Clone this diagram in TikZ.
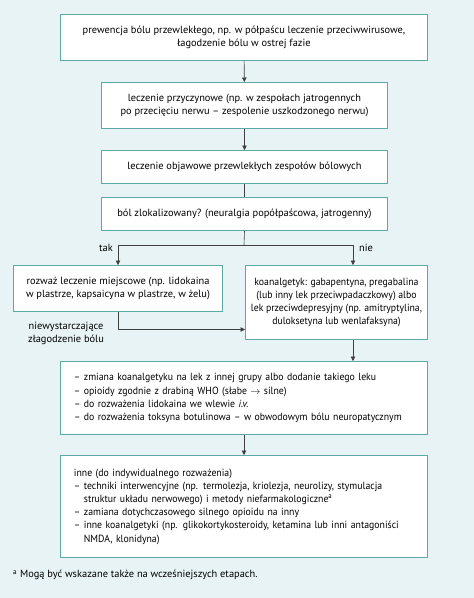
\documentclass[tikz,border=0pt]{standalone}
\usepackage{fontspec}
\setmainfont{PT Sans}
\newfontfamily\narrowsans[Ligatures=TeX,FakeStretch=0.94]{PT Sans}
\usepackage{xcolor}
\usetikzlibrary{arrows.meta}
\definecolor{bgteal}{HTML}{E7F3F4}
\definecolor{boxteal}{HTML}{5BAAA5}
\newcommand{\boxfont}{\fontsize{10.4}{13}\selectfont}
\newcommand{\narrowfont}{\narrowsans\fontsize{10.4}{13.2}\selectfont}

\begin{document}
\begin{tikzpicture}[x=1pt,y=-1pt,
  stepbox/.style={draw=boxteal, line width=1pt, fill=white, anchor=north west,
    align=center, inner sep=0pt, font=\boxfont},
  listbox/.style={stepbox, align=left, text width=#1, inner xsep=13.5pt, font=\narrowfont},
  flow/.style={-{Triangle[length=4.5pt,width=4.5pt]}, black!75, line width=0.6pt},
  plain/.style={black!75, line width=0.6pt}]
  % background with the picture's margins
  \fill[bgteal] (0,0) rectangle (474,598);
  % main column
  \node[stepbox, minimum width=367, minimum height=46] (prev) at (60,14)
    {prewencja bólu przewlekłego, np. w półpaścu leczenie przeciwwirusowe,\\
     łagodzenie bólu w ostrej fazie};
  \node[stepbox, minimum width=286, minimum height=46] (cause) at (101,82)
    {leczenie przyczynowe (np. w zespołach jatrogennych\\
     po przecięciu nerwu -- zespolenie uszkodzonego nerwu)};
  \node[stepbox, minimum width=286, minimum height=33] (symp) at (101,150)
    {leczenie objawowe przewlekłych zespołów bólowych};
  \node[stepbox, minimum width=286, minimum height=33] (loc) at (101,197)
    {ból zlokalizowany? (neuralgia popółpaścowa, jatrogenny)};
  % two branches
  \node[stepbox, minimum width=209, minimum height=46] (topical) at (13,265)
    {rozważ leczenie miejscowe (np. lidokaina\\
     w plastrze, kapsaicyna w plastrze, w żelu)};
  \node[stepbox, font=\narrowfont, minimum width=182, minimum height=74] (coan) at (245,265)
    {koanalgetyk: gabapentyna, pregabalina\\
     (lub inny lek przeciwpadaczkowy) albo\\
     lek przeciwdepresyjny (np. amitryptylina,\\
     duloksetyna lub wenlafaksyna)};
  % later steps
  \node[listbox=340, minimum height=73] (steps) at (60,361)
    {-- zmiana koanalgetyku na lek z innej grupy albo dodanie takiego leku\\
     -- opioidy zgodnie z drabiną WHO (słabe $\rightarrow$ silne)\\
     -- do rozważenia lidokaina we wlewie \textit{i.v.}\\
     -- do rozważenia toksyna botulinowa -- w obwodowym bólu neuropatycznym};
  \node[listbox=340, minimum height=102] (other) at (60,455)
    {inne (do indywidualnego rozważenia)\\
     -- techniki interwencyjne (np. termolezja, kriolezja, neurolizy, stymulacja\\
     \phantom{-- }struktur układu nerwowego) i metody niefarmakologiczne\textsuperscript{a}\\
     -- zamiana dotychczasowego silnego opioidu na inny\\
     -- inne koanalgetyki (np. glikokortykosteroidy, ketamina lub inni antagoniści\\
     \phantom{-- }NMDA, klonidyna)};
  \node[anchor=west, font=\boxfont, inner sep=0pt] (note) at (13,575)
    {\textsuperscript{a} Mogą być wskazane także na wcześniejszych etapach.};
  % connectors
  \draw[flow] (prev) -- (cause);
  \draw[flow] (cause) -- (symp);
  \draw[plain] (symp) -- (loc);
  \coordinate (split) at (244,245);
  \coordinate (takend) at (118,245);
  \coordinate (nieend) at (353,245);
  \draw[plain] (loc.south) -- (split);
  \draw[plain] (takend) -- (nieend);
  \draw[flow] (takend) -- (topical.north);
  \draw[flow] (nieend) -- (nieend |- coan.north);
  \node[font=\boxfont, anchor=east, inner sep=0pt] (tak) at (113,248) {tak};
  \node[font=\boxfont, anchor=west, inner sep=0pt] (nie) at (359,248) {nie};
  \draw[flow] (topical.south) |- ([yshift=-27pt]coan.west);
  \node[font=\boxfont, align=center, inner sep=0pt] (weak) at (66,333)
    {niewystarczające\\złagodzenie bólu};
  \draw[flow] (nieend |- coan.south) -- (nieend |- steps.north);
  \draw[flow] (steps) -- (other);
\end{tikzpicture}
\end{document}
